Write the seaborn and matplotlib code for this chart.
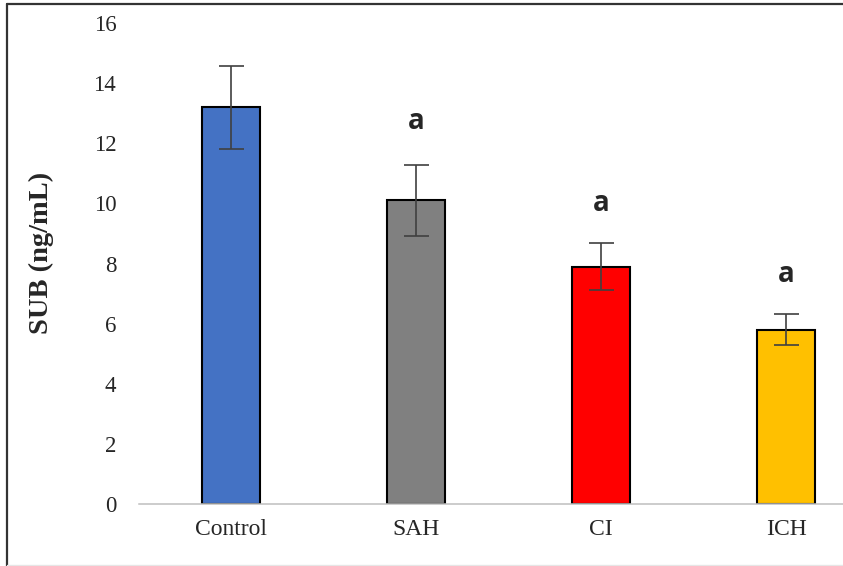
import matplotlib
matplotlib.use("Agg")
import matplotlib.pyplot as plt
from matplotlib.lines import Line2D
import seaborn as sns

groups = ["Control", "SAH", "CI", "ICH"]
means = [13.2, 10.1, 7.9, 5.8]
errors = [1.38, 1.17, 0.78, 0.52]
sig_labels = ["", "a", "a", "a"]
sig_y = [0, 12.72, 10.0, 7.62]
colors = ["#4472C4", "#808080", "#FF0000", "#FFC000"]
y_ticks = [0, 2, 4, 6, 8, 10, 12, 14, 16]

sns.set_style("white")
plt.rcParams["font.family"] = ["Liberation Serif", "DejaVu Serif"]

fig = plt.figure(figsize=(8.43, 5.66), dpi=100)
ax = fig.add_axes([138.5 / 843, 62 / 566, 740 / 843, 481 / 566])

sns.barplot(x=groups, y=means, hue=groups, palette=colors, legend=False,
            width=0.315, edgecolor="black", linewidth=1.5, saturation=1, ax=ax)

# error bars on bar centres
centers = [p.get_x() + p.get_width() / 2 for p in ax.patches]
ax.errorbar(centers, means, yerr=errors, fmt="none", ecolor="#404040",
            elinewidth=1.2, capsize=9, capthick=1.2, zorder=5)

# significance letters
for cx, lab, yy in zip(centers, sig_labels, sig_y):
    if lab:
        ax.text(cx, yy, lab, ha="center", va="center", fontsize=20,
                fontweight="bold", family=["Open Sans", "DejaVu Sans"])

ax.set_xlim(-0.5, 3.5)
ax.set_ylim(0, 16)
ax.set_yticks(y_ticks)
ax.set_yticklabels([str(t) for t in y_ticks])
ax.tick_params(axis="y", length=0, pad=16, labelsize=16.5)
ax.tick_params(axis="x", length=0, pad=11, labelsize=17)
ax.set_xlabel("")
ax.set_ylabel("SUB (ng/mL)", fontsize=20.5, fontweight="bold")
ax.yaxis.set_label_coords(-0.114, 0.521)

for s in ["top", "right", "left"]:
    ax.spines[s].set_visible(False)
ax.spines["bottom"].set_color("#BFBFBF")
ax.spines["bottom"].set_linewidth(1.1)

# outer frame of the original figure
fig.add_artist(Line2D([6.5 / 843, 6.5 / 843], [0, 1 - 4 / 566], color="#333333", lw=1.6))
fig.add_artist(Line2D([6.5 / 843, 1], [1 - 4 / 566, 1 - 4 / 566], color="#333333", lw=1.6))
fig.add_artist(Line2D([6.5 / 843, 1], [1.5 / 566, 1.5 / 566], color="#E6E6E6", lw=1))

fig.savefig("out.png", dpi=100)
